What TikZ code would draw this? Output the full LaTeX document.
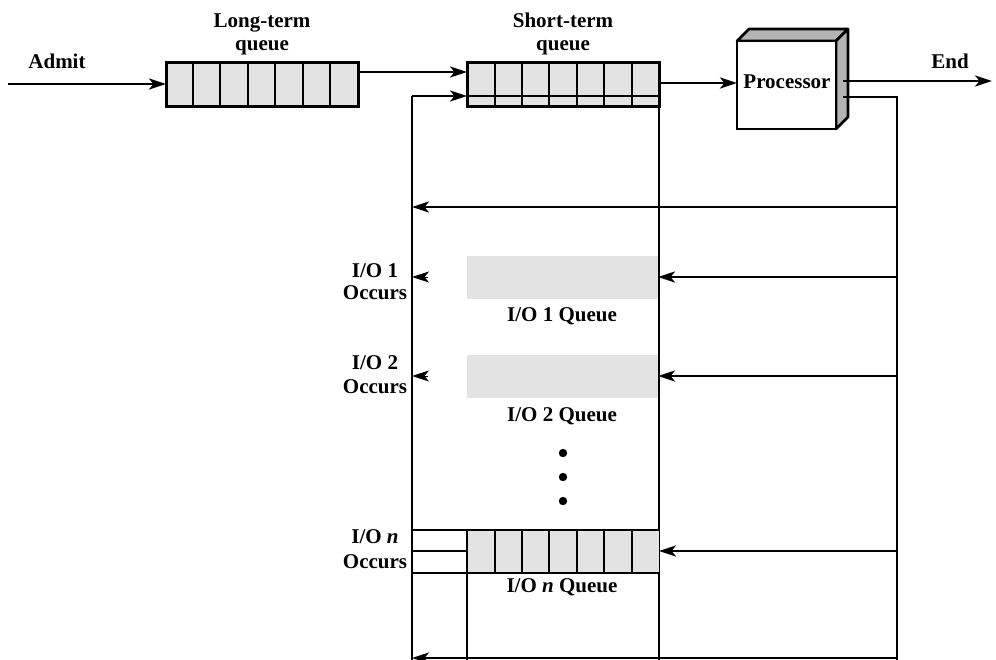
\documentclass[tikz,border=0pt]{standalone}
\usepackage{fontspec}
\setmainfont{Liberation Serif}
\usetikzlibrary{arrows.meta}
\definecolor{qgray}{RGB}{227,227,227}
\definecolor{sgray}{RGB}{180,180,180}
\begin{document}
\begin{tikzpicture}[x=1pt,y=-1pt,
  font=\fontsize{21}{24}\selectfont\bfseries,
  line width=2.6pt,
  arr/.style={-{Stealth[length=17pt,width=11pt,inset=4.5pt]}},
  qbox/.style={draw, fill=qgray, line width=3pt, minimum width=192pt, minimum height=44pt, inner sep=0pt, outer sep=0pt},
  gbox/.style={fill=qgray, minimum width=191pt, minimum height=43pt, inner sep=0pt, outer sep=0pt},
  divider/.style={line width=2pt},
  lbl/.style={inner sep=0pt, anchor=base}]
\useasboundingbox (0,0) rectangle (996,659);
\fill[white] (0,0) rectangle (996,659);

% ---- labels
\node[lbl] (admit) at (57,68) {Admit};
\node[lbl] (lt1) at (262,27) {Long-term};
\node[lbl] (lt2) at (262,50) {queue};
\node[lbl] (st1) at (563,27) {Short-term};
\node[lbl] (st2) at (563,50) {queue};
\node[lbl] (endl) at (950,68) {End};

% ---- long-term queue
\node[qbox] (ltq) at (262,84) {};
\foreach \x in {193,220,248,275,303,330} \draw[divider] (\x,62) -- (\x,106);

% ---- short-term queue
\node[qbox] (stq) at (563,84) {};
\foreach \x in {495,522,549,577,604,632} \draw[divider] (\x,62) -- (\x,106);

% ---- processor
\fill[sgray, draw=black, line width=2.6pt, line join=round] (737,41) -- (749,29) -- (848,29) -- (836,41) -- cycle;
\fill[sgray, draw=black, line width=2.6pt, line join=round] (836,41) -- (848,29) -- (848,117) -- (836,129) -- cycle;
\node[draw, fill=white, line width=2.8pt, minimum width=99pt, minimum height=88pt, inner sep=0pt, outer sep=0pt] (proc) at (786.5,85) {};
\node[lbl] (proclbl) at (787,88) {Processor};

% ---- coordinates of the loop
\coordinate (adm0) at (8,84);
\coordinate (lt-out) at (358,72);
\coordinate (st-in) at (467,72);
\coordinate (st-out) at (659,83);
\coordinate (pr-in) at (737,83);
\coordinate (pr-out) at (843,81);
\coordinate (end1) at (992,81);
\coordinate (pr-back) at (843,97);
\coordinate (Rtop) at (897,97);
\coordinate (Rbot) at (897,660);
\coordinate (Ltop) at (412,96);
\coordinate (Lbot) at (412,660);
\coordinate (stq-back) at (467,96);
\coordinate (stq-backend) at (659,96);
\coordinate (Mtop) at (659,106);
\coordinate (Mbot) at (659,660);

% ---- main flow
\draw[arr] (adm0) -- (ltq.west);
\draw[arr] (lt-out) -- (st-in);
\draw[arr] (st-out) -- (pr-in);
\draw[arr] (pr-out) -- (end1);

% ---- feedback
\draw (pr-back) -- (Rtop) -- (Rbot);
\draw (Ltop) -- (Lbot);
\draw[arr] (Ltop) -- (stq-back);
\draw[divider] (stq-back) -- (stq-backend);
\draw (Mtop) -- (Mbot);

% ---- timeout arrow
\coordinate (to-r) at (897,207);
\coordinate (to-l) at (412,207);
\draw[arr] (to-r) -- (to-l);

% ---- I/O 1
\node[gbox] (io1) at (562.5,277) {};
\coordinate (io1-r) at (897,277);
\draw[arr] (io1-r) -- (io1.east);
\node[lbl] (io1q) at (562,321) {I/O 1 Queue};
\node[lbl] (io1a) at (375,277) {I/O 1};
\node[lbl] (io1b) at (375,299) {Occurs};
\coordinate (io1h0) at (428,277);
\coordinate (io1h1) at (412,277);
\draw[arr, line width=1pt] (io1h0) -- (io1h1);

% ---- I/O 2
\node[gbox] (io2) at (562.5,376) {};
\coordinate (io2-r) at (897,376);
\draw[arr] (io2-r) -- (io2.east);
\node[lbl] (io2q) at (562,421) {I/O 2 Queue};
\node[lbl] (io2a) at (375,369) {I/O 2};
\node[lbl] (io2b) at (375,393) {Occurs};
\coordinate (io2h0) at (428,376);
\coordinate (io2h1) at (412,376);
\draw[arr, line width=1pt] (io2h0) -- (io2h1);

% ---- dots
\foreach \y in {453,477,501} \fill (563,\y) circle (4.2pt);

% ---- I/O n
\node[gbox, minimum width=192pt] (ion) at (563,551) {};
\foreach \x in {495,522,549,577,604,632} \draw[divider] (\x,530) -- (\x,573);
\coordinate (ion-tl) at (412,530);
\coordinate (ion-tr) at (659,530);
\coordinate (ion-ml) at (412,551);
\coordinate (ion-mr) at (467,551);
\coordinate (ion-bl) at (412,573);
\coordinate (ion-br) at (659,573);
\coordinate (ion-v0) at (467,530);
\coordinate (ion-v1) at (467,660);
\draw (ion-tl) -- (ion-tr);
\draw (ion-ml) -- (ion-mr);
\draw (ion-bl) -- (ion-br);
\draw (ion-v0) -- (ion-v1);
\coordinate (ion-r) at (897,551);
\draw[arr] (ion-r) -- (ion.east);
\node[lbl] (ionq) at (562,592) {I/O \textit{n} Queue};
\node[lbl] (iona) at (375,543) {I/O \textit{n}};
\node[lbl] (ionb) at (375,568) {Occurs};

% ---- bottom return arrow (cut by the edge)
\coordinate (bot-r) at (897,658);
\coordinate (bot-l) at (412,658);
\draw[arr] (bot-r) -- (bot-l);
\end{tikzpicture}
\end{document}
